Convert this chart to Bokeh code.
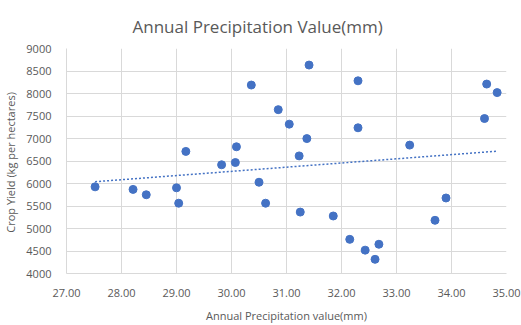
import numpy as np
from bokeh.plotting import figure
from bokeh.models import NumeralTickFormatter, FixedTicker, Range1d, Title
from bokeh.embed import file_html
from bokeh.resources import INLINE

precip = [27.52, 28.21, 28.45, 29.00, 29.04, 29.17, 29.82, 30.07, 30.09, 30.36,
          30.50, 30.62, 30.85, 31.05, 31.23, 31.25, 31.37, 31.41, 31.85, 32.15,
          32.30, 32.30, 32.43, 32.61, 32.68, 33.24, 33.70, 33.90, 34.60, 34.64, 34.83]
yield_kg = [5926, 5869, 5750, 5904, 5562, 6713, 6416, 6466, 6816, 8188,
            6028, 5562, 7641, 7319, 6613, 5365, 6998, 8632, 5278, 4759,
            8282, 7238, 4519, 4315, 4650, 6853, 5182, 5678, 7444, 8210, 8020]
x_ticks = [27, 28, 29, 30, 31, 32, 33, 34, 35]
y_ticks = [4000, 4500, 5000, 5500, 6000, 6500, 7000, 7500, 8000, 8500, 9000]

FONT = "Open Sans"
TXT = "#595959"
BLUE = "#4472C4"
GRID = "#d9d9d9"

p = figure(width=521, height=325, output_backend="svg", toolbar_location=None,
           x_range=Range1d(27, 35), y_range=Range1d(4000, 9000),
           min_border_left=64, min_border_right=15, min_border_top=48, min_border_bottom=48)
p.outline_line_color = None
p.background_fill_color = "white"
p.border_fill_color = "white"

t = Title(text="Annual Precipitation Value(mm)", align="left", offset=66,
          text_font=FONT, text_font_size="17px", text_font_style="normal",
          text_color=TXT, standoff=22)
p.add_layout(t, "above")

p.xaxis.ticker = FixedTicker(ticks=x_ticks)
p.yaxis.ticker = FixedTicker(ticks=y_ticks)
p.xaxis.formatter = NumeralTickFormatter(format="0.00")
for ax in (p.xaxis, p.yaxis):
    ax.axis_line_color = GRID
    ax.major_tick_line_color = None
    ax.minor_tick_line_color = None
    ax.major_label_text_font = FONT
    ax.major_label_text_font_size = "11px"
    ax.major_label_text_color = TXT
    ax.axis_label_text_font = FONT
    ax.axis_label_text_font_size = "11px"
    ax.axis_label_text_font_style = "normal"
    ax.axis_label_text_color = TXT
p.xaxis.axis_label = "Annual Precipitation value(mm)"
p.yaxis.axis_label = "Crop Yield  (kg per hectares)"
p.xaxis.major_label_standoff = 9
p.yaxis.major_label_standoff = 9
p.xaxis.axis_label_standoff = 8
p.yaxis.axis_label_standoff = 5

p.grid.grid_line_color = GRID
p.grid.grid_line_width = 1

# linear trendline (least squares)
m, b = np.polyfit(precip, yield_kg, 1)
xs = [min(precip), max(precip)]
p.line(xs, [m * v + b for v in xs], line_color=BLUE, line_width=1.5, line_dash="2 2")

p.scatter(precip, yield_kg, size=8, fill_color=BLUE, line_color=BLUE)

open("out.html", "w").write(file_html(p, INLINE))
